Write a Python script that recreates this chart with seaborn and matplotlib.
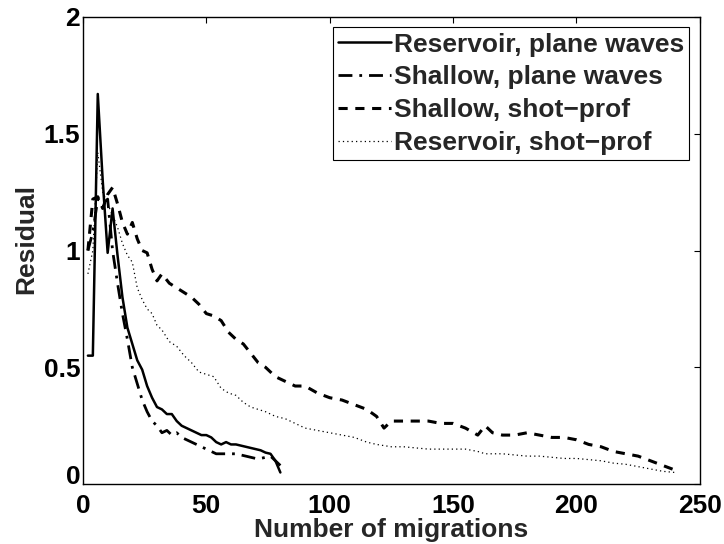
import numpy as np
import pandas as pd
import matplotlib
matplotlib.use("Agg")
import matplotlib.pyplot as plt
import seaborn as sns

# ---- data ----
x_plane = [2, 4, 6, 8, 10, 12, 14, 16, 18, 20, 22, 24, 26, 28, 30, 32, 34, 36, 38, 40,
           42, 44, 46, 48, 50, 52, 54, 56, 58, 60, 62, 64, 66, 68, 70, 72, 74, 76, 78, 80]
reservoir_plane = [0.55, 0.55, 1.67, 1.30, 0.99, 1.18, 0.98, 0.80, 0.67, 0.60,
                   0.53, 0.49, 0.42, 0.37, 0.33, 0.32, 0.30, 0.30, 0.27, 0.25,
                   0.24, 0.23, 0.22, 0.21, 0.21, 0.20, 0.18, 0.17, 0.18, 0.17,
                   0.17, 0.165, 0.16, 0.155, 0.15, 0.145, 0.135, 0.13, 0.10, 0.05]
shallow_plane = [1.00, 1.08, 1.22, 1.20, 1.22, 1.00, 0.86, 0.73, 0.62, 0.50,
                 0.43, 0.36, 0.31, 0.27, 0.25, 0.22, 0.23, 0.21, 0.22, 0.20,
                 0.19, 0.18, 0.17, 0.16, 0.15, 0.14, 0.13, 0.13, 0.13, 0.13,
                 0.13, 0.125, 0.12, 0.115, 0.11, 0.11, 0.115, 0.12, 0.10, 0.08]

x_shot = [2, 4, 6, 8, 10, 12, 14, 16, 18, 20, 22, 24, 26, 28, 30, 32, 35, 38, 41, 44,
          47, 50, 53, 56, 59, 62, 65, 68, 71, 74, 78, 82, 86, 90, 95, 100, 105, 110, 115, 119,
          122, 125, 130, 135, 140, 145, 150, 155, 160, 163, 166, 170, 175, 180, 185, 190, 195, 200, 205, 210,
          215, 220, 225, 230, 235, 240]
shallow_shot = [1.00, 1.22, 1.23, 1.18, 1.24, 1.27, 1.20, 1.12, 1.07, 1.12,
                1.05, 1.00, 0.99, 0.92, 0.87, 0.90, 0.86, 0.84, 0.82, 0.80,
                0.77, 0.73, 0.72, 0.70, 0.65, 0.62, 0.60, 0.56, 0.52, 0.50,
                0.46, 0.44, 0.42, 0.42, 0.39, 0.37, 0.36, 0.34, 0.32, 0.29,
                0.24, 0.27, 0.27, 0.27, 0.27, 0.26, 0.26, 0.24, 0.21, 0.25,
                0.22, 0.21, 0.21, 0.22, 0.21, 0.20, 0.20, 0.19, 0.17, 0.16,
                0.14, 0.13, 0.12, 0.10, 0.08, 0.06]
reservoir_shot = [0.90, 1.00, 1.42, 1.25, 1.20, 1.15, 1.10, 1.03, 0.98, 0.95,
                  0.84, 0.79, 0.75, 0.73, 0.68, 0.66, 0.61, 0.59, 0.55, 0.52,
                  0.48, 0.47, 0.46, 0.41, 0.39, 0.38, 0.35, 0.33, 0.32, 0.31,
                  0.29, 0.28, 0.26, 0.24, 0.23, 0.22, 0.21, 0.20, 0.18, 0.17,
                  0.165, 0.16, 0.16, 0.155, 0.15, 0.15, 0.15, 0.15, 0.14, 0.13,
                  0.13, 0.13, 0.125, 0.12, 0.12, 0.115, 0.11, 0.11, 0.105, 0.10,
                  0.09, 0.085, 0.075, 0.065, 0.055, 0.05]

labels = ["Reservoir, plane waves", "Shallow, plane waves",
          "Shallow, shot\u2212prof", "Reservoir, shot\u2212prof"]
x_ticks = [0, 50, 100, 150, 200, 250]
y_ticks = [0, 0.5, 1, 1.5, 2]
y_tick_labels = ["0", "0.5", "1", "1.5", "2"]

sns.set_theme(style="white")
plt.rcParams["font.family"] = ["Liberation Sans", "DejaVu Sans"]
plt.rcParams["font.weight"] = "bold"

FS = 19

fig = plt.figure(figsize=(7.24, 5.44), dpi=100)
ax = fig.add_axes([0.1146, 0.110, 0.852, 0.859])

sns.lineplot(x=x_plane, y=reservoir_plane, ax=ax, color="black", lw=1.8,
             linestyle="-", label=labels[0])
sns.lineplot(x=x_plane, y=shallow_plane, ax=ax, color="black", lw=2.0,
             linestyle=(0, (5, 2.5, 1, 2.5)), label=labels[1])
sns.lineplot(x=x_shot, y=shallow_shot, ax=ax, color="black", lw=2.2,
             linestyle=(0, (3, 2.5)), label=labels[2])
sns.lineplot(x=x_shot, y=reservoir_shot, ax=ax, color="black", lw=0.9,
             linestyle=(0, (1, 2.5)), label=labels[3])

ax.set_xlim(0, 250)
ax.set_ylim(0, 2)
ax.set_xticks(x_ticks)
ax.set_xticklabels([str(t) for t in x_ticks])
ax.set_yticks(y_ticks)
ax.set_yticklabels(y_tick_labels)
ax.tick_params(direction="in", length=4.5, width=0.8, top=True, right=True,
               labelsize=FS, colors="black")
ax.tick_params(axis="x", pad=7)
ax.tick_params(axis="y", pad=2)
for lab in ax.get_xticklabels() + ax.get_yticklabels():
    lab.set_fontweight("bold")
# the bottom y tick label sits on the axis line, as in the reference
ax.get_yticklabels()[0].set_verticalalignment("baseline")
for s in ax.spines.values():
    s.set_color("black")
    s.set_linewidth(1.0)

ax.set_xlabel("Number of migrations", fontsize=FS, fontweight="bold", labelpad=0)
ax.set_ylabel("Residual", fontsize=FS, fontweight="bold")
ax.yaxis.set_label_coords(-0.072, 0.525)

leg = ax.legend(loc="upper right", fontsize=FS, frameon=True, fancybox=False,
                framealpha=1, edgecolor="black", borderpad=0.2, labelspacing=0.33,
                handlelength=2.0, handletextpad=0.1, borderaxespad=0.4)
leg.get_frame().set_linewidth(0.8)
for t in leg.get_texts():
    t.set_fontweight("bold")

fig.savefig("out.png", dpi=100)
